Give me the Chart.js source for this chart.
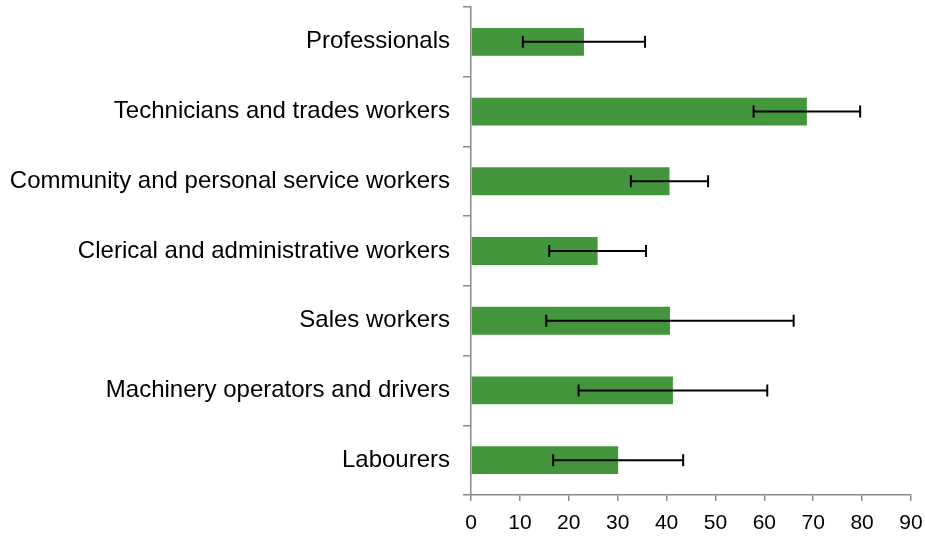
<!DOCTYPE html>
<html>
<head>
<meta charset="utf-8">
<script src="https://cdn.jsdelivr.net/npm/chart.js@4"></script>
<style>
html,body{margin:0;padding:0;background:#fff;}
#wrap{width:925px;height:537px;position:relative;}
</style>
</head>
<body>
<div id="wrap"><canvas id="c"></canvas></div>
<script>
const categories = [
  "Professionals",
  "Technicians and trades workers",
  "Community and personal service workers",
  "Clerical and administrative workers",
  "Sales workers",
  "Machinery operators and drivers",
  "Labourers"
];
const values = [23.1, 68.7, 40.6, 25.9, 40.7, 41.3, 30.1];
const errors = [12.5, 10.9, 7.9, 9.9, 25.3, 19.3, 13.3];
const xTicks = [0, 10, 20, 30, 40, 50, 60, 70, 80, 90];

const errorBarPlugin = {
  id: 'errorBars',
  afterDatasetsDraw(chart) {
    const ctx = chart.ctx;
    const xs = chart.scales.x;
    const meta = chart.getDatasetMeta(0);
    ctx.save();
    ctx.strokeStyle = '#000';
    ctx.lineWidth = 2;
    meta.data.forEach((bar, i) => {
      const y = bar.y;
      const x1 = xs.getPixelForValue(values[i] - errors[i]);
      const x2 = xs.getPixelForValue(values[i] + errors[i]);
      ctx.beginPath();
      ctx.moveTo(x1, y); ctx.lineTo(x2, y);
      ctx.moveTo(x1, y - 6); ctx.lineTo(x1, y + 6);
      ctx.moveTo(x2, y - 6); ctx.lineTo(x2, y + 6);
      ctx.stroke();
    });
    ctx.restore();
  }
};

new Chart(document.getElementById('c'), {
  type: 'bar',
  data: {
    labels: categories,
    datasets: [{
      data: values,
      backgroundColor: '#43963B',
      borderWidth: 0,
      categoryPercentage: 1,
      barPercentage: 0.4
    }]
  },
  options: {
    indexAxis: 'y',
    responsive: true,
    maintainAspectRatio: false,
    animation: false,
    layout: { padding: { top: 7, right: 14, left: 0, bottom: 0 } },
    plugins: { legend: { display: false }, tooltip: { enabled: false } },
    scales: {
      x: {
        min: 0, max: 90,
        afterBuildTicks(scale) { scale.ticks = xTicks.map(v => ({ value: v })); },
        afterFit(scale) { scale.height = 42; scale.paddingLeft = 0; scale.paddingRight = 0; },
        grid: { drawOnChartArea: false, drawTicks: true, tickLength: 6, color: '#898989', lineWidth: 1.5 },
        border: { color: '#898989', width: 1.5 },
        ticks: { color: '#000', font: { family: 'Liberation Sans, Arial', size: 21 }, padding: 10, maxRotation: 0 }
      },
      y: {
        afterFit(scale) { scale.width = 471; scale.paddingTop = 0; scale.paddingBottom = 0; },
        grid: { offset: true, drawOnChartArea: false, drawTicks: true, tickLength: 8, color: '#898989', lineWidth: 1.5 },
        border: { color: '#898989', width: 1.5 },
        ticks: { color: '#000', font: { family: 'Liberation Sans, Arial', size: 24 }, padding: 13 }
      }
    }
  },
  plugins: [errorBarPlugin]
});
</script>
</body>
</html>
